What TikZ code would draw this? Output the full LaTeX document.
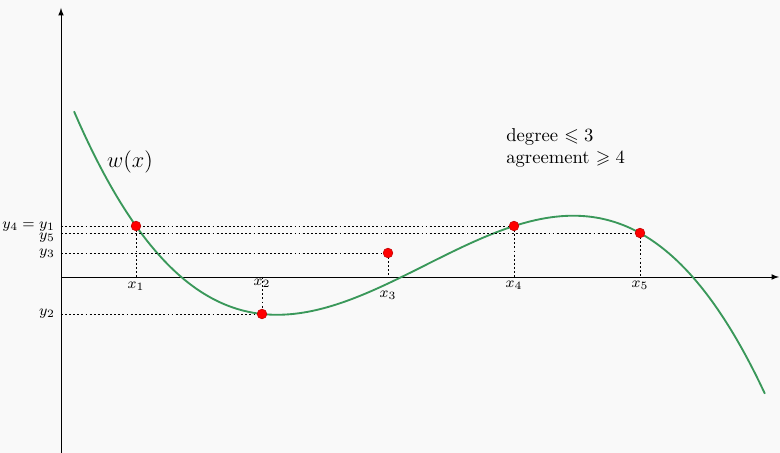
\documentclass[tikz,border=0pt]{standalone}
\usepackage{amsmath,amssymb}
\usepackage{tikz}

\definecolor{curvegreen}{RGB}{58,152,90}
\definecolor{bggray}{RGB}{249,249,249}

\begin{document}
\begin{tikzpicture}[x=0.537pt,y=0.537pt,
  guide/.style={dash pattern=on 1pt off 1.2pt, line width=0.5pt},
  dot/.style={fill=red, draw=red!75!black, line width=0.3pt},
  declare function={w(\t)=51-69.84*(\t-0.75)+27.71*(\t-0.75)*(\t-2.01)-7.623*(\t-0.75)*(\t-2.01)*(\t-4.53);}]
  \fill[bggray] (-61,-176) rectangle (719,277);
  \useasboundingbox (-61,-176) rectangle (719,277);

  \coordinate (O) at (0,0);
  \coordinate (X) at (718,0);
  \coordinate (Ybot) at (0,-176);
  \coordinate (Y) at (0,269);

  % points that agree with w
  \coordinate (P1) at (75,51);
  \coordinate (P2) at (201,-37);
  \coordinate (P4) at (453,51);
  \coordinate (P5) at (579,44);
  % point off the curve
  \coordinate (P3) at (327,24);

  \draw[-latex] (O) -- (X);
  \draw[-latex] (Ybot) -- (Y);

  \draw[curvegreen, line width=1pt] plot[domain=0.13:7.04, samples=120, smooth] ({100*\x},{w(\x)});

  \draw[guide] (P1 -| O) -- (P4);
  \draw[guide] (P5 -| O) -- (P5);
  \draw[guide] (P3 -| O) -- (P3);
  \draw[guide] (P2 -| O) -- (P2);

  \draw[guide] (P1) -- (P1 |- O);
  \draw[guide] (P2 |- O) -- (P2);
  \draw[guide] (P3) -- (P3 |- O);
  \draw[guide] (P4) -- (P4 |- O);
  \draw[guide] (P5) -- (P5 |- O);

  \foreach \p in {P1,P2,P3,P4,P5} \fill[dot] (\p) circle (2.6pt);

  \node[font=\footnotesize] (lx1) at (75,-9) {$x_1$};
  \node[font=\footnotesize] (lx2) at (201,-6) {$x_2$};
  \node[font=\footnotesize] (lx3) at (327,-18) {$x_3$};
  \node[font=\footnotesize] (lx4) at (453,-8) {$x_4$};
  \node[font=\footnotesize] (lx5) at (579,-8) {$x_5$};

  \node[font=\footnotesize, anchor=east, inner sep=1pt] (ly1) at (-4,50) {$y_4 = y_1$};
  \node[font=\footnotesize, anchor=east, inner sep=1pt] (ly5) at (-4,39) {$y_5$};
  \node[font=\footnotesize, anchor=east, inner sep=1pt] (ly3) at (-4,23) {$y_3$};
  \node[font=\footnotesize, anchor=east, inner sep=1pt] (ly2) at (-4,-37) {$y_2$};

  \node[font=\large] (wlabel) at (69,115) {$w(x)$};
  \node[anchor=west, align=left, inner sep=0pt] (info) at (445,129)
    {degree $\leqslant 3$\\agreement $\geqslant 4$};
\end{tikzpicture}
\end{document}
